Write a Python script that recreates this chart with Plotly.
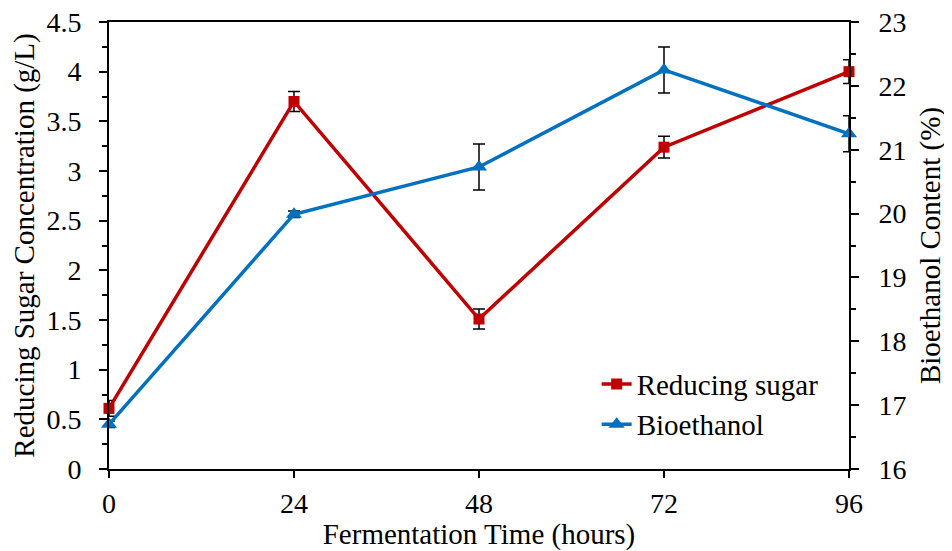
import plotly.graph_objects as go

time_h = [0, 24, 48, 72, 96]
sugar = [0.61, 3.70, 1.51, 3.24, 4.00]
sugar_err = [0.08, 0.10, 0.10, 0.11, 0.12]
ethanol = [16.70, 19.99, 20.73, 22.25, 21.25]
ethanol_err = [0.05, 0.05, 0.36, 0.36, 0.28]
x_ticks = [0, 24, 48, 72, 96]

FONT = "Liberation Serif, Times New Roman, serif"
RED = "#C00000"
BLUE = "#0070C0"
TICK_SIZE = 28
TITLE_SIZE = 29

fig = go.Figure()
fig.add_trace(go.Scatter(
    x=time_h, y=sugar, name="Reducing sugar", mode="lines+markers",
    line=dict(color=RED, width=3.5),
    marker=dict(symbol="square", size=11, color=RED),
    error_y=dict(type="data", array=sugar_err, color="black", thickness=1.5, width=6),
    cliponaxis=False, legend="legend",
))
fig.add_trace(go.Scatter(
    x=time_h, y=ethanol, name="Bioethanol", mode="lines+markers", yaxis="y2",
    line=dict(color=BLUE, width=3.5),
    marker=dict(symbol="triangle-up", size=14, color=BLUE),
    error_y=dict(type="data", array=ethanol_err, color="black", thickness=1.5, width=6),
    cliponaxis=False, legend="legend2",
))

axis_common = dict(
    showline=True, linecolor="black", linewidth=2, showgrid=False, zeroline=False,
    ticks="outside", tickcolor="black", tickwidth=1.5, ticklabeloverflow="allow",
    tickfont=dict(family=FONT, size=TICK_SIZE, color="black"),
)

fig.update_layout(
    width=944, height=543,
    margin=dict(l=99, r=103, t=14, b=82),
    paper_bgcolor="white", plot_bgcolor="white",
    font=dict(family=FONT, size=TITLE_SIZE, color="black"),
    showlegend=True,
    xaxis=dict(
        **axis_common, automargin="bottom", range=[0, 96], tickvals=x_ticks, ticklen=7, mirror=True,
        ticklabelstandoff=1,
        title=dict(text="Fermentation Time (hours)", font=dict(family=FONT, size=TITLE_SIZE), standoff=0),
    ),
    yaxis=dict(
        **axis_common, automargin="left", range=[0, 4.5],
        tickvals=[0, 0.5, 1, 1.5, 2, 2.5, 3, 3.5, 4, 4.5],
        ticklen=8, ticklabelstandoff=12,
        minor=dict(dtick=0.25, ticks="outside", ticklen=5, tickcolor="black", tickwidth=1.5),
        title=dict(text="Reducing Sugar Concentration (g/L)", font=dict(family=FONT, size=TITLE_SIZE), standoff=6),
    ),
    yaxis2=dict(
        **axis_common, automargin="right", overlaying="y", side="right", range=[16, 23],
        tickvals=[16, 17, 18, 19, 20, 21, 22, 23], ticklen=8,
        ticklabelstandoff=14,
        minor=dict(dtick=0.5, ticks="outside", ticklen=5, tickcolor="black", tickwidth=1.5),
        title=dict(text="Bioethanol Content (%)", font=dict(family=FONT, size=TITLE_SIZE), standoff=14),
    ),
    legend=dict(x=0.659, y=0.190, xanchor="left", yanchor="middle", bgcolor="rgba(0,0,0,0)",
                font=dict(family=FONT, size=TITLE_SIZE)),
    legend2=dict(x=0.659, y=0.100, xanchor="left", yanchor="middle", bgcolor="rgba(0,0,0,0)",
                 font=dict(family=FONT, size=TITLE_SIZE)),
)

fig.write_html("out.html")
